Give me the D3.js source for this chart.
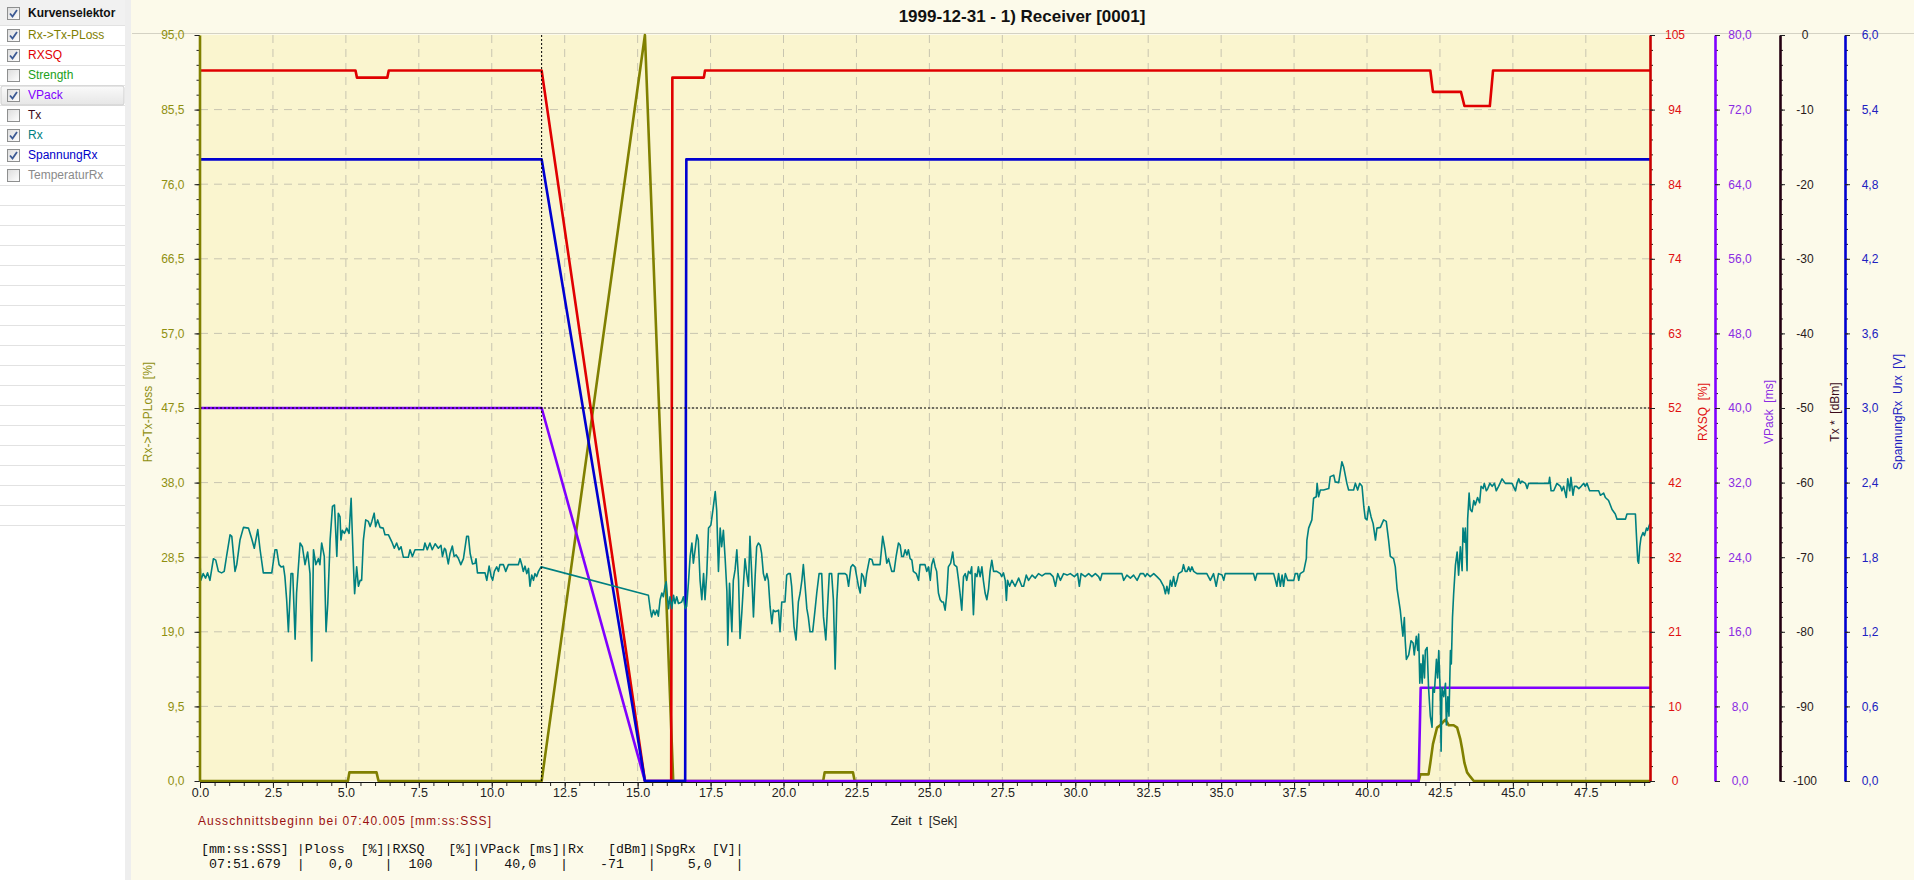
<!DOCTYPE html>
<html>
<head>
<meta charset="utf-8">
<title>Receiver [0001]</title>
<script src="https://cdnjs.cloudflare.com/ajax/libs/d3/7.8.5/d3.min.js"></script>
<style>
  body { margin: 0; background: #fcfaea; overflow: hidden; }
  text { font-family: "Liberation Sans", Arial, sans-serif; }
  .grid line { stroke: #c8c5b0; stroke-dasharray: 8,6; stroke-width: 1; }
  .mono { font-family: "Liberation Mono", "Courier New", monospace; white-space: pre; }
  .pre { white-space: pre; }
</style>
</head>
<body>
<script>

var width = 1914, height = 880;

// ---- data ----
var titleText = "1999-12-31 - 1) Receiver [0001]";
var cursorT = 11.71;
var xMax = 49.7;

var legendNames   = ["Rx->Tx-PLoss", "RXSQ", "Strength", "VPack", "Tx", "Rx", "SpannungRx", "TemperaturRx"];
var legendColors  = ["#808000", "#e00000", "#20a020", "#8000ff", "#3a0a1a", "#008080", "#0000c8", "#8a8a8a"];
var legendChecked = [true, true, false, true, false, true, true, false];

var rxsqLabels = ["0", "10", "21", "32", "42", "52", "63", "74", "84", "94", "105"];

// [sec, %]  left axis
var plossData = [[0,0],[5.07,0],[5.12,1.1],[6.05,1.1],[6.12,0],[11.71,0],[15.25,95],[16.22,0],
  [21.36,0],[21.41,1.1],[22.38,1.1],[22.44,0],[41.77,0],[41.83,0.85],[42.11,0.85],[42.17,2.3],
  [42.26,4.7],[42.40,6.8],[42.51,7.1],[42.63,7.6],[42.69,7.8],[42.80,7.1],[42.97,7.1],[43.09,6.8],
  [43.20,5.3],[43.26,4.1],[43.34,2.3],[43.43,1.1],[43.54,0.55],[43.66,0],[49.7,0]];

// [sec, %]  RXSQ
var rxsqData = [[0,100],[5.33,100],[5.38,99],[6.42,99],[6.47,100],[11.71,100],[15.25,0],[16.15,0],
  [16.19,99],[17.27,99],[17.31,100],[42.17,100],[42.26,97],[43.22,97],[43.34,95],[44.21,95],
  [44.32,100],[49.7,100]];

// [sec, ms]
var vpackData = [[0,40],[11.71,40],[15.25,0],[41.77,0],[41.84,10],[49.7,10]];

// [sec, V]
var spgData = [[0,5],[11.71,5],[15.25,0],[16.63,0],[16.67,5],[49.7,5]];

// [sec, dBm]
var rxData = [[0,-70.8],[0.03,-73.1],[0.11,-72.2],[0.19,-72.8],[0.26,-72.1],[0.34,-73.1],[0.46,-70.2],
  [0.54,-70.4],[0.63,-71.9],[0.74,-72.1],[0.83,-71.9],[0.91,-69.9],[1.03,-67.0],[1.09,-67.2],[1.20,-71.9],
  [1.26,-71.0],[1.37,-67.7],[1.49,-66.0],[1.66,-66.1],[1.77,-67.5],[1.86,-68.8],[1.98,-66.3],[2.06,-69.0],
  [2.17,-72.1],[2.46,-72.1],[2.57,-69.0],[2.63,-69.0],[2.71,-71.0],[2.78,-71.3],[2.86,-71.2],[2.91,-72.6],
  [2.97,-75.7],[3.03,-80.0],[3.12,-72.2],[3.18,-72.2],[3.26,-81.0],[3.31,-74.8],[3.43,-68.1],[3.51,-68.6],
  [3.60,-71.0],[3.69,-69.3],[3.77,-72.2],[3.83,-83.9],[3.89,-69.0],[3.97,-71.0],[4.06,-70.2],[4.11,-71.0],
  [4.17,-68.1],[4.26,-69.9],[4.32,-80.0],[4.38,-76.2],[4.46,-67.7],[4.54,-63.2],[4.61,-63.0],[4.69,-69.9],
  [4.74,-64.1],[4.80,-64.6],[4.83,-67.7],[4.88,-66.4],[4.95,-66.8],[5.03,-66.1],[5.11,-66.8],[5.18,-62.1],
  [5.22,-66.8],[5.27,-72.2],[5.30,-74.9],[5.37,-71.3],[5.43,-73.9],[5.49,-73.1],[5.54,-73.1],[5.60,-67.7],
  [5.68,-65.0],[5.77,-65.2],[5.83,-65.9],[5.89,-65.2],[5.97,-64.1],[6.02,-65.9],[6.09,-65.0],[6.17,-66.0],
  [6.28,-66.1],[6.34,-67.0],[6.46,-67.0],[6.57,-67.9],[6.66,-68.8],[6.74,-68.1],[6.82,-69.0],[6.89,-68.6],
  [6.97,-70.0],[7.14,-70.0],[7.20,-69.0],[7.28,-69.9],[7.37,-69.0],[7.66,-69.0],[7.71,-68.1],[7.79,-69.0],
  [7.88,-68.1],[7.96,-69.0],[8.06,-68.2],[8.17,-68.8],[8.26,-68.4],[8.31,-69.9],[8.38,-68.8],[8.42,-69.0],
  [8.51,-70.9],[8.57,-69.5],[8.65,-68.5],[8.71,-69.9],[8.78,-69.7],[8.86,-70.2],[8.94,-71.0],[9.03,-70.2],
  [9.14,-67.2],[9.20,-67.2],[9.26,-69.5],[9.34,-70.9],[9.43,-70.8],[9.46,-70.2],[9.51,-72.1],[9.77,-72.1],
  [9.83,-73.1],[9.91,-71.2],[9.98,-72.6],[10.03,-73.1],[10.09,-71.9],[10.17,-71.3],[10.23,-71.9],[10.28,-71.0],
  [10.40,-71.0],[10.48,-71.9],[10.57,-71.0],[10.74,-71.0],[10.91,-71.0],[10.97,-70.2],[11.03,-71.0],[11.08,-71.9],
  [11.14,-71.2],[11.20,-72.2],[11.26,-71.5],[11.31,-73.9],[11.37,-72.4],[11.43,-73.1],[11.48,-72.2],[11.54,-72.6],
  [11.60,-71.9],[11.69,-71.3],
  [15.37,-75.1],[15.43,-76.9],[15.48,-78.0],[15.54,-77.1],[15.60,-77.7],[15.66,-77.1],[15.71,-77.9],[15.77,-75.7],
  [15.83,-74.8],[15.88,-75.3],[15.94,-73.9],[15.98,-73.3],[16.02,-75.3],[16.06,-76.9],[16.11,-75.3],[16.17,-76.9],
  [16.23,-75.1],[16.28,-76.2],[16.34,-75.3],[16.40,-76.2],[16.51,-76.0],[16.57,-75.3],[16.63,-76.9],[16.68,-76.6],
  [16.74,-73.5],[16.80,-69.9],[16.86,-68.1],[16.91,-70.8],[16.97,-69.0],[17.03,-67.0],[17.08,-67.7],[17.14,-73.1],
  [17.20,-75.7],[17.26,-72.2],[17.31,-75.7],[17.37,-72.2],[17.43,-66.1],[17.51,-65.7],[17.58,-63.7],[17.66,-61.2],
  [17.71,-63.7],[17.77,-71.9],[17.83,-66.1],[17.88,-68.6],[17.94,-66.4],[18.00,-70.2],[18.06,-74.6],[18.09,-81.8],
  [18.15,-73.5],[18.23,-80.0],[18.28,-73.1],[18.34,-71.7],[18.40,-69.0],[18.46,-73.1],[18.51,-80.9],[18.57,-77.5],
  [18.63,-73.5],[18.68,-70.2],[18.74,-72.2],[18.80,-73.9],[18.85,-67.2],[18.91,-72.2],[18.97,-78.0],[19.03,-72.4],
  [19.08,-68.6],[19.14,-68.1],[19.20,-68.4],[19.25,-69.5],[19.31,-72.2],[19.37,-73.1],[19.43,-72.2],[19.48,-73.1],
  [19.54,-76.6],[19.60,-78.9],[19.65,-77.1],[19.71,-77.3],[19.83,-77.1],[19.88,-80.0],[19.94,-76.0],[20.05,-76.0],
  [20.11,-72.4],[20.17,-72.2],[20.23,-72.2],[20.28,-73.9],[20.36,-79.3],[20.43,-81.1],[20.51,-76.0],[20.57,-74.8],
  [20.63,-73.1],[20.68,-71.0],[20.74,-73.9],[20.80,-76.9],[20.85,-78.0],[20.91,-80.0],[21.00,-80.0],[21.08,-77.1],
  [21.14,-74.8],[21.22,-72.2],[21.31,-72.2],[21.37,-78.0],[21.45,-81.1],[21.51,-76.6],[21.57,-72.2],[21.65,-72.2],
  [21.71,-75.7],[21.77,-85.0],[21.83,-75.7],[21.88,-72.2],[22.11,-72.2],[22.17,-72.4],[22.23,-73.9],[22.31,-71.3],
  [22.37,-71.0],[22.45,-71.3],[22.51,-72.6],[22.57,-73.9],[22.63,-74.8],[22.68,-72.2],[22.74,-72.6],[22.80,-73.9],
  [22.85,-72.2],[22.95,-70.2],[23.03,-70.3],[23.08,-71.0],[23.31,-71.0],[23.40,-67.2],[23.48,-69.0],[23.54,-70.8],
  [23.60,-70.2],[23.65,-71.0],[23.71,-71.9],[23.79,-71.9],[23.86,-69.9],[23.94,-68.1],[24.00,-68.4],[24.05,-69.9],
  [24.11,-69.9],[24.17,-69.0],[24.23,-69.7],[24.28,-69.0],[24.34,-70.2],[24.40,-70.4],[24.45,-71.9],[24.55,-72.2],
  [24.63,-73.1],[24.68,-71.0],[24.80,-71.0],[24.85,-71.0],[24.91,-71.9],[24.97,-71.3],[25.03,-73.1],[25.08,-71.0],
  [25.14,-70.2],[25.20,-71.3],[25.25,-71.9],[25.31,-74.8],[25.37,-75.7],[25.43,-76.0],[25.48,-76.0],[25.54,-77.1],
  [25.60,-74.8],[25.65,-71.3],[25.73,-70.8],[25.80,-69.3],[25.85,-71.0],[25.94,-71.3],[26.00,-73.1],[26.05,-74.8],
  [26.11,-77.1],[26.17,-72.6],[26.23,-72.2],[26.28,-73.1],[26.34,-71.9],[26.40,-72.2],[26.45,-71.3],[26.51,-77.7],
  [26.57,-72.2],[26.63,-72.6],[26.68,-71.3],[26.74,-72.6],[26.80,-71.3],[26.85,-73.1],[26.91,-74.8],[26.97,-75.7],
  [27.03,-74.2],[27.08,-71.9],[27.14,-70.4],[27.20,-71.9],[27.31,-71.9],[27.43,-72.2],[27.48,-72.6],[27.54,-72.1],
  [27.60,-73.1],[27.64,-75.8],[27.68,-73.1],[27.75,-73.9],[27.83,-73.1],[27.94,-73.9],[28.06,-72.8],[28.17,-73.9],
  [28.23,-73.9],[28.32,-72.4],[28.40,-73.1],[28.52,-72.4],[28.63,-72.8],[28.74,-72.2],[28.86,-72.5],[28.97,-72.2],
  [29.14,-72.2],[29.24,-72.6],[29.32,-73.9],[29.40,-72.2],[29.49,-73.1],[29.60,-72.2],[29.72,-72.4],[29.83,-72.2],
  [29.97,-72.6],[30.08,-72.2],[30.14,-73.9],[30.20,-72.2],[30.34,-72.6],[30.46,-72.2],[30.57,-72.6],[30.69,-72.2],
  [30.80,-72.6],[30.86,-73.1],[30.92,-72.2],[31.60,-72.2],[31.66,-73.1],[31.77,-72.4],[31.89,-72.8],[32.00,-72.4],
  [32.12,-73.1],[32.23,-72.2],[32.34,-72.2],[32.40,-72.6],[32.46,-72.2],[32.57,-72.6],[32.69,-72.2],[32.80,-72.6],
  [32.92,-73.1],[33.03,-73.9],[33.09,-74.9],[33.14,-73.9],[33.20,-74.9],[33.26,-73.1],[33.31,-73.9],[33.37,-72.6],
  [33.43,-73.9],[33.49,-73.1],[33.54,-72.2],[33.66,-71.9],[33.71,-71.0],[33.77,-71.9],[33.83,-71.9],[33.89,-71.3],
  [33.94,-71.9],[34.00,-71.3],[34.06,-71.9],[34.17,-72.2],[34.51,-72.2],[34.63,-73.1],[34.74,-72.2],[34.83,-73.9],
  [34.91,-72.2],[35.03,-72.4],[35.09,-73.1],[35.14,-72.2],[36.11,-72.2],[36.17,-73.1],[36.23,-72.2],[36.80,-72.2],
  [36.86,-73.1],[36.91,-73.9],[36.97,-72.2],[37.03,-73.9],[37.09,-72.4],[37.14,-73.9],[37.20,-72.2],[37.28,-73.1],
  [37.37,-73.1],[37.49,-73.1],[37.54,-72.2],[37.62,-72.2],[37.66,-73.1],[37.71,-72.2],[37.83,-71.9],[37.92,-70.2],
  [37.94,-67.7],[38.00,-66.1],[38.11,-65.0],[38.17,-62.1],[38.26,-61.9],[38.29,-60.1],[38.34,-61.9],[38.40,-61.0],
  [38.51,-61.0],[38.69,-60.8],[38.74,-59.2],[38.86,-59.0],[38.91,-59.9],[39.03,-60.0],[39.14,-57.2],[39.20,-57.9],
  [39.31,-60.1],[39.37,-61.0],[39.54,-61.0],[39.60,-60.1],[39.68,-61.0],[39.75,-60.1],[39.83,-60.5],[39.89,-63.2],
  [39.94,-64.8],[40.00,-65.0],[40.06,-63.2],[40.14,-64.6],[40.21,-65.5],[40.29,-67.7],[40.34,-66.1],[40.46,-66.0],
  [40.57,-65.0],[40.66,-65.2],[40.74,-67.7],[40.80,-69.9],[40.91,-70.2],[40.97,-71.3],[41.03,-74.2],[41.14,-77.1],
  [41.23,-80.6],[41.28,-78.1],[41.31,-81.2],[41.35,-83.7],[41.43,-83.1],[41.51,-81.2],[41.58,-81.5],[41.62,-83.1],
  [41.69,-80.6],[41.74,-82.5],[41.77,-80.3],[41.81,-86.9],[41.85,-84.3],[41.89,-86.9],[41.92,-83.1],[41.97,-86.2],
  [42.00,-82.5],[42.06,-82.1],[42.11,-87.5],[42.17,-91.3],[42.23,-92.8],[42.26,-87.5],[42.31,-88.1],[42.38,-83.7],
  [42.42,-86.2],[42.46,-82.5],[42.51,-88.1],[42.54,-96.0],[42.57,-87.5],[42.63,-88.7],[42.69,-86.9],[42.72,-92.5],
  [42.77,-88.7],[42.81,-91.3],[42.86,-82.5],[42.89,-84.3],[42.93,-78.1],[42.97,-74.9],[43.03,-71.1],[43.09,-69.3],
  [43.14,-72.4],[43.20,-68.6],[43.26,-71.8],[43.29,-66.1],[43.34,-68.0],[43.37,-66.1],[43.43,-71.8],[43.45,-64.9],
  [43.50,-61.4],[43.54,-63.6],[43.60,-63.9],[43.66,-62.4],[43.71,-63.0],[43.79,-62.0],[43.86,-62.7],[43.91,-60.5],
  [43.98,-60.8],[44.02,-60.1],[44.09,-61.1],[44.14,-60.8],[44.21,-60.1],[44.29,-60.5],[44.37,-60.1],[44.43,-61.1],
  [44.51,-60.5],[44.63,-59.5],[44.74,-60.1],[44.86,-60.1],[44.97,-60.1],[45.09,-61.1],[45.14,-60.1],[45.20,-59.5],
  [45.26,-60.1],[45.31,-59.8],[45.43,-60.1],[45.49,-60.8],[45.54,-60.1],[45.60,-60.1],[46.23,-60.1],[46.26,-59.3],
  [46.31,-61.1],[46.40,-61.1],[46.51,-60.1],[46.63,-60.5],[46.68,-61.1],[46.74,-60.5],[46.83,-62.0],[46.88,-59.5],
  [46.95,-61.1],[46.99,-59.3],[47.06,-61.7],[47.11,-60.5],[47.18,-60.5],[47.26,-60.8],[47.34,-60.5],[47.43,-60.1],
  [47.48,-60.5],[47.54,-60.1],[47.63,-61.1],[47.94,-61.1],[48.00,-61.7],[48.11,-61.4],[48.17,-62.0],[48.28,-62.4],
  [48.40,-63.6],[48.51,-64.2],[48.57,-64.9],[48.86,-64.9],[48.91,-64.2],[49.20,-64.2],[49.23,-66.7],[49.28,-70.5],
  [49.31,-70.8],[49.35,-68.6],[49.39,-67.4],[49.46,-66.7],[49.51,-67.1],[49.58,-66.1],[49.62,-66.4],[49.67,-65.8],
  [49.70,-65.5]];

var tableHead = "[mm:ss:SSS] |Ploss  [%]|RXSQ   [%]|VPack [ms]|Rx   [dBm]|SpgRx  [V]|";
var tableRow  = " 07:51.679  |   0,0    |  100     |   40,0   |    -71   |    5,0   |";

// ---- layout ----
var plotL = 200, plotR = 1650, plotT = 35, plotB = 781;

var x = d3.scaleLinear().domain([0, xMax]).range([plotL, plotR]);
var yPloss = d3.scaleLinear().domain([0, 95]).range([plotB, plotT]);
var yRxsq  = d3.scaleLinear().domain([0, 105]).range([plotB, plotT]);
var yVpack = d3.scaleLinear().domain([0, 80]).range([plotB, plotT]);
var yRx    = d3.scaleLinear().domain([-100, 0]).range([plotB, plotT]);
var ySpg   = d3.scaleLinear().domain([0, 6]).range([plotB, plotT]);

var comma1 = function(d){ return d3.format(".1f")(d).replace(".", ",").replace("\u2212", "-"); };
var intFmt = function(d){ return String(Math.round(d)); };

var svg = d3.select("body").append("svg")
    .attr("width", width)
    .attr("height", height);

svg.append("rect").attr("width", width).attr("height", height).attr("fill", "#fcfaea");

// title bar line + title
svg.append("line").attr("x1", 132).attr("x2", width).attr("y1", 33.5).attr("y2", 33.5)
    .attr("stroke", "#d4d2c4");
svg.append("text")
    .attr("x", 1022).attr("y", 16)
    .attr("text-anchor", "middle").attr("dominant-baseline", "central")
    .style("font-size", "17px").style("font-weight", "bold").attr("fill", "#111")
    .text(titleText);

// plot background
svg.append("rect")
    .attr("x", plotL).attr("y", plotT)
    .attr("width", plotR - plotL).attr("height", plotB - plotT)
    .attr("fill", "#faf5cf");

// grid
var grid = svg.append("g").attr("class", "grid");
grid.selectAll("line.v").data(d3.range(2.5, xMax, 2.5)).enter().append("line")
    .attr("class", "v")
    .attr("x1", function(d){ return x(d); }).attr("x2", function(d){ return x(d); })
    .attr("y1", plotT).attr("y2", plotB);
grid.selectAll("line.h").data(d3.range(9.5, 94, 9.5)).enter().append("line")
    .attr("class", "h")
    .attr("y1", function(d){ return yPloss(d); }).attr("y2", function(d){ return yPloss(d); })
    .attr("x1", plotL).attr("x2", plotR);

// clip
svg.append("clipPath").attr("id", "clip").append("rect")
    .attr("x", plotL).attr("y", plotT - 2).attr("width", plotR - plotL).attr("height", plotB - plotT + 4);

var lines = svg.append("g").attr("clip-path", "url(#clip)");

function drawSeries(data, yScale, color, w) {
  var line = d3.line().x(function(d){ return x(d[0]); }).y(function(d){ return yScale(d[1]); });
  lines.append("path").datum(data)
      .attr("d", line)
      .attr("fill", "none")
      .attr("stroke", color)
      .attr("stroke-width", w)
      .attr("stroke-linejoin", "round");
}

drawSeries(plossData, yPloss, "#808000", 2.6);
drawSeries(rxsqData, yRxsq, "#e00000", 2.6);
drawSeries(vpackData, yVpack, "#8000ff", 2.6);
drawSeries(spgData, ySpg, "#0000d0", 2.6);
drawSeries(rxData, yRx, "#008080", 1.6);

// cursor
svg.append("line")
    .attr("x1", x(cursorT)).attr("x2", x(cursorT))
    .attr("y1", plotT).attr("y2", plotB)
    .attr("stroke", "#000").attr("stroke-dasharray", "2,2");
svg.append("line")
    .attr("x1", plotL).attr("x2", plotR)
    .attr("y1", yPloss(47.5)).attr("y2", yPloss(47.5))
    .attr("stroke", "#000").attr("stroke-dasharray", "2,2");

// ---- vertical axes ----
function vAxis(scale, xpos, isLeft, step, minorStep, fmt, lineColor, textColor) {
  var g = svg.append("g").attr("transform", "translate(" + xpos + ",0)");
  var dom = scale.domain();
  var mk = isLeft ? d3.axisLeft : d3.axisRight;
  g.append("g").call(mk(scale).tickValues(d3.range(dom[0], dom[1] + 1e-6, minorStep))
      .tickSize(3).tickSizeOuter(0).tickFormat(""))
    .call(function(s){ s.select(".domain").remove(); s.selectAll("line").attr("stroke", "#222"); });
  var major = g.append("g").call(mk(scale).tickValues(d3.range(dom[0], dom[1] + 1e-6, step))
      .tickSize(5).tickSizeOuter(0).tickPadding(10).tickFormat(fmt));
  major.select(".domain").attr("stroke", lineColor).attr("stroke-width", 2.6);
  major.selectAll(".tick line").attr("stroke", "#222");
  major.selectAll(".tick text").attr("fill", textColor)
      .style("font-size", "12px").style("font-family", "Liberation Sans, Arial, sans-serif");
  if (!isLeft) major.selectAll(".tick text").attr("x", 25).attr("text-anchor", "middle");
  return major;
}

vAxis(yPloss, plotL - 0.5, true, 9.5, 1.9, comma1, "#808000", "#8f8f10");
vAxis(yRxsq, plotR, false, 10.5, 2.1, function(d, i){ return rxsqLabels[i]; }, "#c80000", "#e01010");
vAxis(yVpack, 1715, false, 8, 1.6, comma1, "#8000ff", "#8a2be2");
vAxis(yRx, 1780, false, 10, 2, intFmt, "#240012", "#2a1a1a");
vAxis(ySpg, 1845, false, 0.6, 0.12, comma1, "#0000d0", "#2020c0");

// axis titles
var axisTitles = [
  {x: 148, text: "Rx->Tx-PLoss  [%]", color: "#8f8f10"},
  {x: 1703, text: "RXSQ  [%]", color: "#e01010"},
  {x: 1769, text: "VPack  [ms]", color: "#8a2be2"},
  {x: 1835, text: "Tx *  [dBm]", color: "#3a0a1a"},
  {x: 1898, text: "SpannungRx  Urx  [V]", color: "#2020c0"}
];
svg.selectAll("text.atitle").data(axisTitles).enter().append("text")
    .attr("class", "atitle pre")
    .attr("transform", function(d){ return "translate(" + d.x + ",412) rotate(-90)"; })
    .attr("text-anchor", "middle").attr("dominant-baseline", "central")
    .style("font-size", "12px")
    .attr("fill", function(d){ return d.color; })
    .text(function(d){ return d.text; });

// ---- x axis ----
var xg = svg.append("g").attr("transform", "translate(0," + (plotB + 1) + ")");
xg.append("g").call(d3.axisBottom(x).tickValues(d3.range(0, xMax, 0.5)).tickSize(4).tickSizeOuter(0).tickFormat(""))
  .call(function(s){ s.select(".domain").remove(); s.selectAll("line").attr("stroke", "#222"); });
var xa = xg.append("g").call(d3.axisBottom(x).tickValues(d3.range(0, xMax, 2.5))
    .tickSize(6).tickSizeOuter(0).tickFormat(d3.format(".1f")));
xa.select(".domain").attr("stroke", "#111").attr("stroke-width", 1.2);
xa.selectAll(".tick line").attr("stroke", "#222");
xa.selectAll(".tick text").attr("y", 11).attr("dy", "0.35em").attr("fill", "#222")
    .style("font-size", "12.5px").style("font-family", "Liberation Sans, Arial, sans-serif");

svg.append("text").attr("class", "pre")
    .attr("x", 924).attr("y", 821).attr("text-anchor", "middle").attr("dominant-baseline", "central")
    .style("font-size", "12.5px").attr("fill", "#222")
    .text("Zeit  t  [Sek]");

svg.append("text")
    .attr("x", 198).attr("y", 821).attr("dominant-baseline", "central")
    .style("font-size", "12px").attr("fill", "#9a1010")
    .attr("textLength", 293).attr("lengthAdjust", "spacing")
    .text("Ausschnittsbeginn bei 07:40.005 [mm:ss:SSS]");

svg.append("text").attr("class", "mono")
    .attr("x", 201).attr("y", 849).attr("dominant-baseline", "central")
    .style("font-size", "13.3px").attr("fill", "#111")
    .text(tableHead);
svg.append("text").attr("class", "mono")
    .attr("x", 201).attr("y", 864).attr("dominant-baseline", "central")
    .style("font-size", "13.3px").attr("fill", "#111")
    .text(tableRow);

// ---- curve selector panel ----
var panel = svg.append("g");
panel.append("rect").attr("width", 125).attr("height", height).attr("fill", "#ffffff");
panel.append("rect").attr("x", 125).attr("width", 6).attr("height", height).attr("fill", "#eeeeee");
panel.append("rect").attr("width", 125).attr("height", 25).attr("fill", "#f1f1f1");
panel.selectAll("line.sep").data(d3.range(0, 26)).enter().append("line")
    .attr("class", "sep")
    .attr("x1", 0).attr("x2", 125)
    .attr("y1", function(i){ return 25.5 + 20 * i; }).attr("y2", function(i){ return 25.5 + 20 * i; })
    .attr("stroke", "#e2e2e2");

var defs = svg.append("defs");
var cbGrad = defs.append("linearGradient").attr("id", "cb").attr("x1", 0).attr("x2", 1).attr("y1", 0).attr("y2", 1);
cbGrad.append("stop").attr("offset", "0%").attr("stop-color", "#dcdcdc");
cbGrad.append("stop").attr("offset", "100%").attr("stop-color", "#ffffff");
var hlGrad = defs.append("linearGradient").attr("id", "hl").attr("x1", 0).attr("x2", 0).attr("y1", 0).attr("y2", 1);
hlGrad.append("stop").attr("offset", "0%").attr("stop-color", "#fafafa");
hlGrad.append("stop").attr("offset", "100%").attr("stop-color", "#e6e6e6");

// highlighted row (VPack)
panel.append("rect")
    .attr("x", 1).attr("y", 86).attr("width", 123).attr("height", 19).attr("rx", 2)
    .attr("fill", "url(#hl)").attr("stroke", "#cfcfcf");

function checkbox(g, cy, checked) {
  g.append("rect").attr("x", 7.5).attr("y", cy - 5.5).attr("width", 12).attr("height", 12)
      .attr("fill", "url(#cb)").attr("stroke", "#8e8f8f");
  if (checked) {
    g.append("path").attr("d", "M10," + (cy + 0.5) + " L12.5," + (cy + 3.5) + " L17," + (cy - 3))
        .attr("fill", "none").attr("stroke", "#3d5a94").attr("stroke-width", 1.8);
  }
}

checkbox(panel, 13, true);
panel.append("text").attr("x", 28).attr("y", 13).attr("dominant-baseline", "central")
    .style("font-size", "12px").style("font-weight", "bold").attr("fill", "#111")
    .text("Kurvenselektor");

legendNames.forEach(function(name, i) {
  var cy = 35 + 20 * i;
  checkbox(panel, cy, legendChecked[i]);
  panel.append("text").attr("x", 28).attr("y", cy).attr("dominant-baseline", "central")
      .style("font-size", "12px").attr("fill", legendColors[i])
      .text(name);
});

</script>
</body>
</html>
